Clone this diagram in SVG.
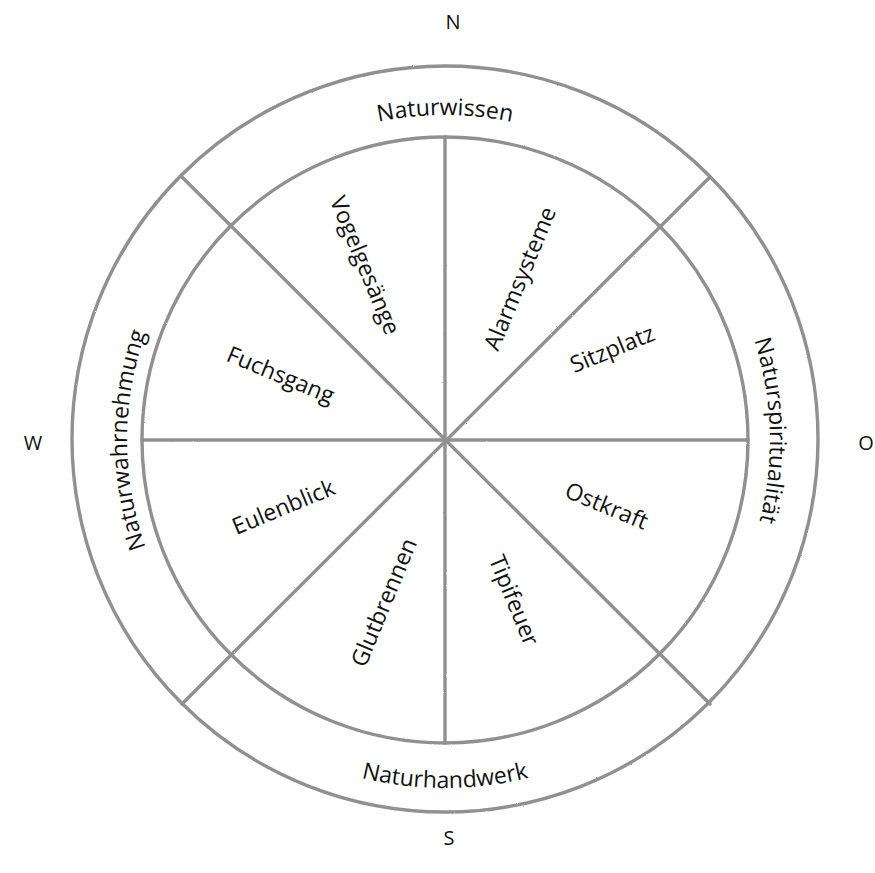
<svg xmlns="http://www.w3.org/2000/svg" xmlns:xlink="http://www.w3.org/1999/xlink" width="875" height="873" viewBox="0 0 875 873">
<style>
.ln{fill:none;stroke:#909090;stroke-width:3.4;stroke-linecap:round}
.lbl{font-family:"Open Sans","Liberation Sans",sans-serif;font-size:23px;fill:#111}
.dir{font-family:"Open Sans","Liberation Sans",sans-serif;font-size:20px;fill:#111;text-anchor:middle}
.in{text-anchor:middle;dominant-baseline:central}
</style>
<defs>
<filter id="pencil" x="-5%" y="-5%" width="110%" height="110%">
<feTurbulence type="fractalNoise" baseFrequency="0.9" numOctaves="2" seed="3" result="n"/>
<feDisplacementMap in="SourceGraphic" in2="n" scale="1.6"/>
</filter>
<path id="pTop" d="M120,440 A325,325 0 0 1 770,440"/>
<path id="pBot" d="M97,440 A348,348 0 0 0 793,440"/>
<path id="pRight" d="M445,115 A325,325 0 0 1 445,765" transform="rotate(-1.7 445 440)"/>
<path id="pLeft" d="M445,758 A318,318 0 0 1 445,122"/>
</defs>
<rect width="875" height="873" fill="#ffffff"/>
<g id="circles" filter="url(#pencil)">
<circle id="outer" class="ln" cx="445" cy="439" r="373"/>
<circle id="inner" class="ln" cx="445" cy="440" r="303"/>
</g>
<g id="connectors" filter="url(#pencil)">
<line class="ln" x1="445" y1="137" x2="445" y2="743"/>
<line class="ln" x1="142" y1="440" x2="748" y2="440"/>
<line class="ln" x1="182" y1="177" x2="710" y2="704"/>
<line class="ln" x1="710" y1="177" x2="182" y2="704"/>
</g>
<g id="ring-labels">
<g id="naturwissen"><text class="lbl"><textPath xlink:href="#pTop" href="#pTop" startOffset="50%" text-anchor="middle">Naturwissen</textPath></text></g>
<g id="naturhandwerk"><text class="lbl"><textPath xlink:href="#pBot" href="#pBot" startOffset="50%" text-anchor="middle">Naturhandwerk</textPath></text></g>
<g id="naturspiritualitaet"><text class="lbl"><textPath xlink:href="#pRight" href="#pRight" startOffset="50%" text-anchor="middle">Naturspiritualität</textPath></text></g>
<g id="naturwahrnehmung"><text class="lbl"><textPath xlink:href="#pLeft" href="#pLeft" startOffset="50%" text-anchor="middle">Naturwahrnehmung</textPath></text></g>
</g>
<g id="sector-labels">
<g id="vogelgesaenge"><text class="lbl in" transform="translate(366 265) rotate(67.5)">Vogelgesänge</text></g>
<g id="alarmsysteme"><text class="lbl in" transform="translate(519 278) rotate(-67.5)">Alarmsysteme</text></g>
<g id="sitzplatz"><text class="lbl in" transform="translate(612 348) rotate(-22.5)">Sitzplatz</text></g>
<g id="ostkraft"><text class="lbl in" transform="translate(607 505) rotate(22.5)">Ostkraft</text></g>
<g id="tipifeuer"><text class="lbl in" transform="translate(515 600) rotate(67.5)">Tipifeuer</text></g>
<g id="glutbrennen"><text class="lbl in" transform="translate(383 602) rotate(-67.5)">Glutbrennen</text></g>
<g id="eulenblick"><text class="lbl in" transform="translate(283 506) rotate(-22.5)">Eulenblick</text></g>
<g id="fuchsgang"><text class="lbl in" transform="translate(281 374) rotate(22.5)">Fuchsgang</text></g>
</g>
<g id="directions">
<text class="dir" x="453" y="29">N</text>
<text class="dir" x="449" y="845">S</text>
<text class="dir" x="33" y="450">W</text>
<text class="dir" x="866" y="450">O</text>
</g>
</svg>
